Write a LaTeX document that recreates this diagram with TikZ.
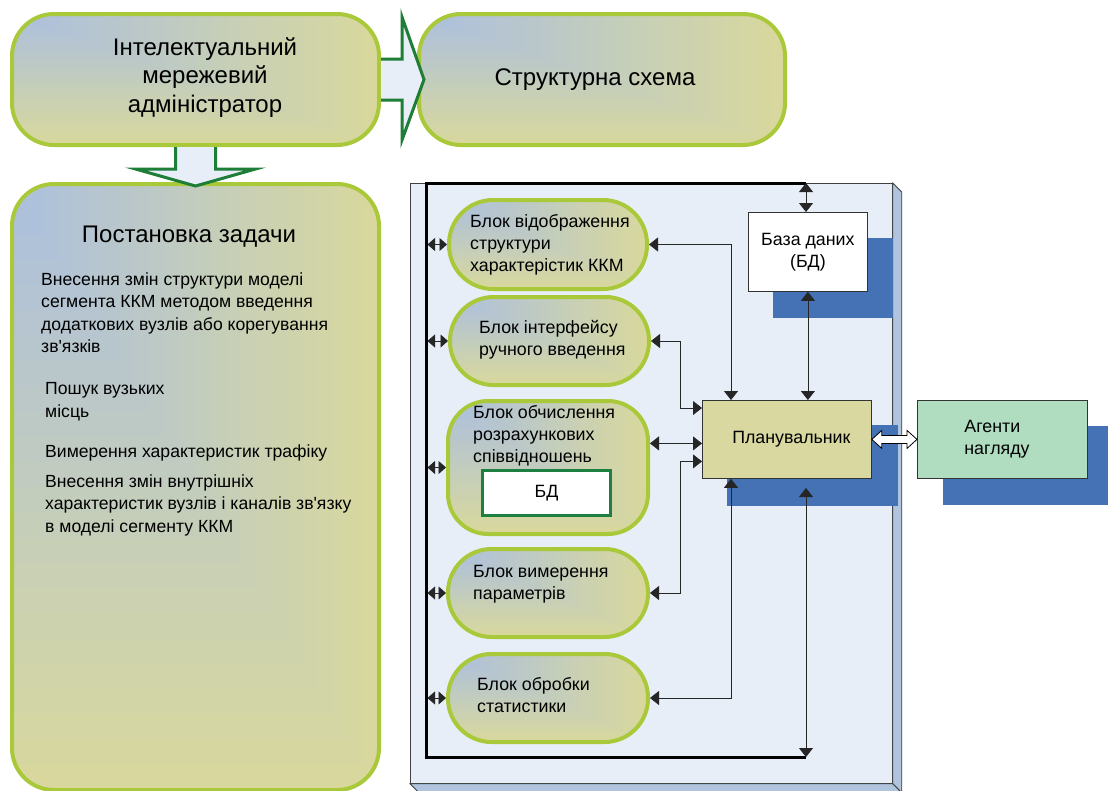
\documentclass[tikz,border=0pt]{standalone}
\usepackage{fontspec}
\setmainfont{Liberation Sans}[Ligatures=TeXOff]
\usetikzlibrary{arrows.meta,calc}
\pgfdeclarelayer{bg}
\pgfdeclarelayer{shad}
\pgfsetlayers{bg,shad,main}
\definecolor{cBord}{RGB}{170,201,58}
\definecolor{cBlue}{RGB}{172,192,221}
\definecolor{cYel}{RGB}{216,216,158}
\definecolor{cArrG}{RGB}{30,125,55}
\definecolor{cArrF}{RGB}{232,238,247}
\definecolor{cPanel}{RGB}{232,238,247}
\definecolor{cSide}{RGB}{176,196,222}
\definecolor{cShad}{RGB}{68,114,180}
\definecolor{cPlan}{RGB}{216,216,160}
\definecolor{cAgent}{RGB}{176,220,192}
\definecolor{cInner}{RGB}{30,128,64}
\newcommand\fntBig{\fontsize{24}{28.5}\selectfont}
\newcommand\fntBlk{\fontsize{17.8}{22}\selectfont}
\newcommand\fntList{\fontsize{17.6}{22.4}\selectfont}
\newcommand\myrectgrad{%
  \foreach \i in {24,23,...,1}{%
    \pgfmathtruncatemacro\gradp{round(100*(24-\i)/23)}%
    \fill[sharp corners, cBlue!\gradp!cYel] (path picture bounding box.north west) rectangle ($(path picture bounding box.north west)!\i/24!(path picture bounding box.south east)$);
  }}
\begin{document}
\begin{tikzpicture}[x=1pt,y=-1pt,
  gbox/.style={draw=cBord, line width=4pt, inner sep=0pt, anchor=north west, path picture={\myrectgrad}},
  txt/.style={inner sep=0pt, align=left, anchor=north west},
  conn/.style={draw=black!85, line width=0.8pt, {Triangle[width=14pt,length=9pt]}-{Triangle[width=14pt,length=9pt]}},
  shortconn/.style={draw=black!85, line width=0.8pt, {Triangle[width=13pt,length=7.5pt]}-{Triangle[width=13pt,length=7.5pt]}},
  bus/.style={draw=black, line width=3pt},
  blockarrow/.style={draw=cArrG, line width=3pt, line join=miter},
  shd/.style={fill=cShad},
  plainbox/.style={draw=black!80, line width=0.8pt, inner sep=0pt, anchor=north west}
]
\useasboundingbox (0,0) rectangle (1108,790);

% ---------- top boxes ----------
\node[gbox, rounded corners=42pt, minimum width=367pt, minimum height=131pt] (admin) at (10,12) {};
\node[gbox, rounded corners=42pt, minimum width=366pt, minimum height=131pt] (struct) at (417,12) {};
\node[gbox, rounded corners=42pt, minimum width=367pt, minimum height=606pt] (task) at (10,182) {};

\node[inner sep=0pt, align=center, font=\fntBig] (tadmin) at (205,77.5) {Інтелектуальний\\мережевий\\адміністратор};
\node[inner sep=0pt, font=\fntBig, anchor=base] (tstruct) at (595,85) {Структурна схема};
\node[inner sep=0pt, font=\fntBig, anchor=base] (ttl) at (189,242) {Постановка задачи};

\node[txt, font=\fntList] (l1) at (41,272.5) {Внесення змін структури моделі\\сегмента ККМ методом введення\\додаткових вузлів або корегування\\зв'язків};
\node[txt, font=\fntList] (l2) at (45,382.5) {Пошук вузьких\\місць};
\node[txt, font=\fntList] (l3) at (45,444.5) {Вимерення характеристик трафіку};
\node[txt, font=\fntList] (l4) at (45,474.5) {Внесення змін внутрішніх\\характеристик вузлів і каналів зв'язку\\в моделі сегменту ККМ};

% ---------- block arrows ----------
\fill[cArrF] ($(admin.east)+(0,-20.5)$) -- ++(21,0) -- ++(0,-42) -- ($(admin.east)+(43,0)$) -- ($(admin.east)+(21,60.5)$) -- ++(0,-40) -- ($(admin.east)+(0,20.5)$) -- cycle;
\draw[blockarrow] ($(admin.east)+(0,-20.5)$) -- ++(21,0) -- ++(0,-42) -- ($(admin.east)+(43,0)$) -- ($(admin.east)+(21,60.5)$) -- ++(0,-40) -- ($(admin.east)+(0,20.5)$);
\fill[cArrF] ($(admin.south)+(-20,0)$) -- ++(0,22) -- ++(-40,0) -- ($(admin.south)+(0,39)$) -- ($(admin.south)+(60,22)$) -- ++(-40,0) -- ($(admin.south)+(20,0)$) -- cycle;
\draw[blockarrow] ($(admin.south)+(-20,0)$) -- ++(0,22) -- ++(-40,0) -- ($(admin.south)+(0,39)$) -- ($(admin.south)+(60,22)$) -- ++(-40,0) -- ($(admin.south)+(20,0)$);

% ---------- panel ----------
\begin{pgfonlayer}{bg}
\node[plainbox, draw=black!75, fill=cPanel, minimum width=482pt, minimum height=600pt] (panel) at (410,183) {};
\filldraw[fill=cSide, draw=black!75, line width=0.8pt] (panel.north east) -- ++(9,9) -- ($(panel.south east)+(9,9)$) -- (panel.south east) -- cycle;
\filldraw[fill=cSide, draw=black!75, line width=0.8pt] (panel.south west) -- (panel.south east) -- ++(9,9) -- ($(panel.south west)+(9,9)$) -- cycle;
\end{pgfonlayer}

% ---------- boxes in panel ----------
\node[plainbox, fill=white, minimum width=119pt, minimum height=79pt, font=\fntBlk, align=center] (db) at (748,212) {База даних\\(БД)};
\node[plainbox, fill=cPlan, minimum width=169pt, minimum height=78pt, font=\fntBlk] (plan) at (702,400) {\hspace*{9pt}Планувальник};
\node[plainbox, fill=cAgent, minimum width=170pt, minimum height=78pt, font=\fntBlk, align=left, text width=76pt] (agent) at (917,400) {Агенти\\нагляду};

\node[gbox, rounded corners=44pt, minimum width=198pt, minimum height=89pt] (b1) at (447,198) {};
\node[gbox, rounded corners=43.5pt, minimum width=199pt, minimum height=88pt] (b2) at (448,295) {};
\node[gbox, rounded corners=40pt, minimum width=200pt, minimum height=133pt] (b3) at (446,399) {};
\node[gbox, rounded corners=43.5pt, minimum width=200pt, minimum height=88pt] (b4) at (446,547) {};
\node[gbox, rounded corners=43.5pt, minimum width=200pt, minimum height=88pt] (b5) at (446,652) {};
\node[plainbox, draw=cInner, line width=3pt, fill=white, minimum width=128pt, minimum height=45pt, font=\fntBlk] (bdi) at (481,469) {БД};

\node[txt, font=\fntBlk] (t1) at (470,214) {Блок відображення\\структури\\характерістик ККМ};
\node[txt, font=\fntBlk] (t2) at (479,320) {Блок інтерфейсу\\ручного введення};
\node[txt, font=\fntBlk] (t3) at (473,405) {Блок обчислення\\розрахункових\\співвідношень};
\node[txt, font=\fntBlk] (t4) at (473,565) {Блок вимерення\\параметрів};
\node[txt, font=\fntBlk] (t5) at (477,677) {Блок обробки\\статистики};

\begin{pgfonlayer}{shad}
\fill[shd] ($(db.north west)+(25,26)$) rectangle ($(db.south east)+(25,26)$);
\fill[shd] ($(plan.north west)+(25,25)$) rectangle ($(plan.south east)+(26,27)$);
\fill[shd] ($(agent.north west)+(26,26)$) rectangle ($(agent.south east)+(26,26)$);
\end{pgfonlayer}

% ---------- bus ----------
\coordinate (busTL) at (426,183);
\coordinate (busBL) at (426,757);
\coordinate (busTR) at (806,183);
\coordinate (busBR) at (806,757);
\coordinate (pb) at (806,488);
\coordinate (jA) at (731,0);
\coordinate (jB) at (680,0);
\coordinate (p2) at ($(plan.north west)+(0,8)$);
\coordinate (p3) at ($(plan.west)+(0,4)$);
\coordinate (p4) at ($(plan.west)+(0,22)$);

\draw[bus] (busTR) -- (busTL) -- (busBL) -- (busBR);

\foreach \b in {b1,b2,b3,b4,b5}{
  \draw[shortconn] ($(busTL |- \b.west)+(1.5,0)$) -- (\b.west);
}

\draw[conn] (b1.east) -| (jA |- plan.north);
\draw[conn] (b2.east) -| (jB |- p2) -- (p2);
\draw[conn] (b3.east |- p3) -- (p3);
\draw[conn] (b4.east) -| (jB |- p4) -- (p4);
\draw[conn] (b5.east) -| (jA |- plan.south);
\draw[conn] (db.south) -- (db.south |- plan.north);
\draw[conn] (busTR) -- (busTR |- db.north);
\draw[conn] (busBR) -- (pb);

% hollow double arrow
\filldraw[fill=white, draw=black, line width=0.8pt] (plan.east) -- ++(10,-9) -- ++(0,5) -- ($(agent.west)+(-10,-4)$) -- ++(0,-5) -- (agent.west) -- ++(-10,9) -- ++(0,-5) -- ($(plan.east)+(10,4)$) -- ++(0,5) -- cycle;
\end{tikzpicture}
\end{document}
